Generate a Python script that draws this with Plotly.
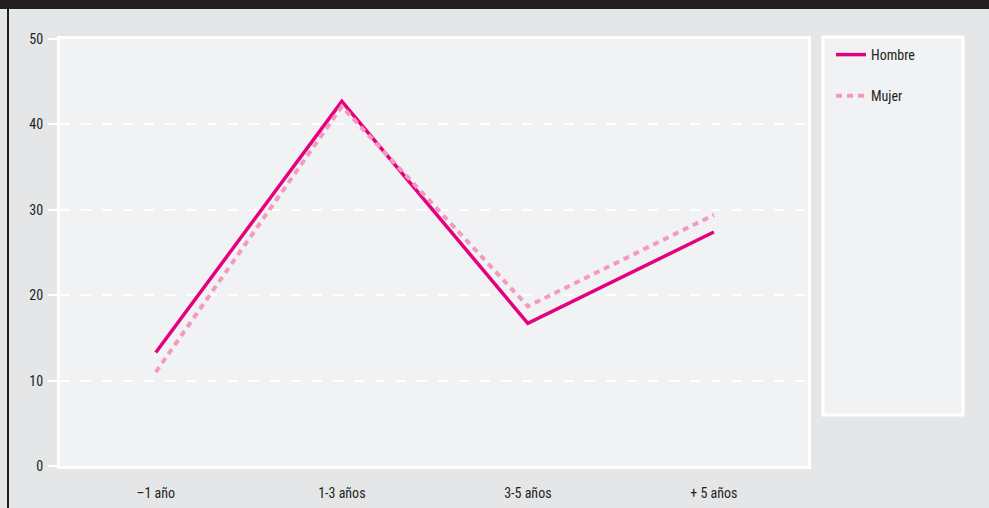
import plotly.graph_objects as go

# Años de antigüedad por sexo (%)
categorias = ["\u20131 año", "1-3 años", "3-5 años", "+ 5 años"]
hombre = [13.3, 42.7, 16.7, 27.4]
mujer = [11.0, 42.1, 18.7, 29.4]
y_ticks = [0, 10, 20, 30, 40, 50]

FONT = "Roboto Condensed, Liberation Sans, sans-serif"
W, H = 989, 508
L, R, T, B = 60, 181, 39, 42
PW, PH = W - L - R, H - T - B


def px_x(x):
    return (x - L) / PW


def px_y(y):
    return (H - B - y) / PH


fig = go.Figure()
fig.add_trace(go.Scatter(
    x=categorias, y=hombre, name="Hombre", mode="lines",
    line=dict(color="#e5007d", width=3.5), legendgroup="h",
))
fig.add_trace(go.Scatter(
    x=categorias, y=mujer, name="Mujer", mode="lines",
    line=dict(color="#f39ac0", width=4, dash="6px,5px"), legendgroup="m",
))

# legend panel
fig.add_shape(type="rect", xref="paper", yref="paper",
              x0=px_x(823), x1=px_x(963), y0=px_y(415), y1=px_y(37),
              fillcolor="#f1f2f4", line=dict(color="white", width=3), layer="below")
# dark header band and left rule of the page
fig.add_shape(type="rect", xref="paper", yref="paper",
              x0=px_x(-2), x1=px_x(W + 2), y0=px_y(9), y1=px_y(-2),
              fillcolor="#231f20", line=dict(width=0), layer="above")
fig.add_shape(type="line", xref="paper", yref="paper",
              x0=px_x(8), x1=px_x(8), y0=px_y(H + 2), y1=px_y(9),
              line=dict(color="#231f20", width=2))

fig.update_layout(
    width=W, height=H,
    margin=dict(l=L, r=R, t=T, b=B, autoexpand=False),
    paper_bgcolor="#e5e6e8",
    plot_bgcolor="#f1f2f4",
    font=dict(family=FONT, size=14, color="#231f20"),
    showlegend=True,
    legend=dict(
        x=px_x(831), y=px_y(39),
        xanchor="left", yanchor="top",
        bgcolor="rgba(0,0,0,0)", borderwidth=0,
        tracegroupgap=20,
        font=dict(family=FONT, size=14, color="#231f20"),
    ),
    xaxis=dict(
        type="category", range=[-0.515, 3.506],
        showgrid=False, zeroline=False,
        showline=True, linecolor="white", linewidth=3, mirror=True,
        ticks="", tickfont=dict(size=14), ticklabelstandoff=12,
    ),
    yaxis=dict(
        range=[0, 50], tickvals=y_ticks,
        showgrid=True, gridcolor="white", gridwidth=2, griddash="10px,11px",
        zeroline=False,
        showline=True, linecolor="white", linewidth=3, mirror=True,
        ticks="outside", tickcolor="white", ticklen=9, tickwidth=2,
        tickfont=dict(size=14), ticklabelstandoff=2,
    ),
)

fig.write_html("out.html")
